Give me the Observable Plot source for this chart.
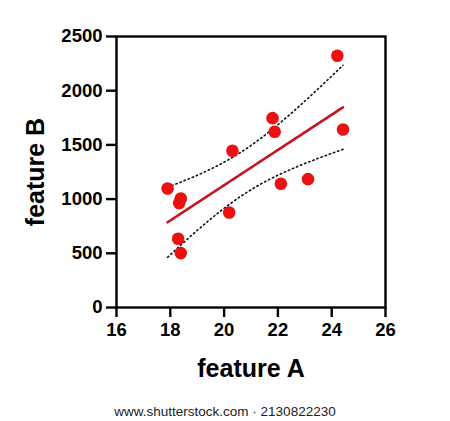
<!DOCTYPE html>
<html>
<head>
<meta charset="utf-8">
<script src="https://cdn.jsdelivr.net/npm/d3@7"></script>
<script src="https://cdn.jsdelivr.net/npm/@observablehq/plot@0.6"></script>
<style>
  html, body { margin: 0; padding: 0; background: #fff; }
  #chart svg { display: block; }
  #caption { width: 450px; text-align: center; font-family: "Liberation Sans", Arial, sans-serif; font-size: 13.5px; color: #222; line-height: 16px; margin-top: 6px; }
</style>
</head>
<body>
<div id="chart"></div>
<div id="caption">www.shutterstock.com · 2130822230</div>
<script>
const featureA = [17.90, 18.39, 18.33, 18.29, 18.39, 20.31, 20.19, 21.80, 21.88, 22.11, 23.12, 24.21, 24.42];
const featureB = [1098, 1006, 963, 634, 502, 1446, 876, 1747, 1621, 1141, 1184, 2322, 1642];
const xTicks = [16, 18, 20, 22, 24, 26];
const yTicks = [0, 500, 1000, 1500, 2000, 2500];
const xLabel = "feature A";
const yLabel = "feature B";

const points = featureA.map((a, i) => ({a, b: featureB[i]}));

// linear regression with 95% confidence band of the mean
const n = points.length;
const mx = d3.mean(featureA), my = d3.mean(featureB);
const sxx = d3.sum(featureA, v => (v - mx) ** 2);
const sxy = d3.sum(points, p => (p.a - mx) * (p.b - my));
const slope = sxy / sxx, intercept = my - slope * mx;
const sse = d3.sum(points, p => (p.b - (intercept + slope * p.a)) ** 2);
const s = Math.sqrt(sse / (n - 2));
const t = 2.201; // t(0.975, df = 11)
const [x0, x1] = d3.extent(featureA);
const band = d3.range(0, 41).map(k => {
  const a = x0 + (x1 - x0) * k / 40;
  const fit = intercept + slope * a;
  const h = t * s * Math.sqrt(1 / n + (a - mx) ** 2 / sxx);
  return {a, fit, lo: fit - h, hi: fit + h};
});

const font = "'Liberation Sans', Arial, Helvetica, sans-serif";
const chart = Plot.plot({
  width: 450,
  height: 398,
  marginLeft: 116,
  marginRight: 65,
  marginTop: 36,
  marginBottom: 91,
  style: {fontFamily: font, fontWeight: "bold", fontSize: "18.5px", color: "#000", background: "#fff"},
  x: {domain: [16, 26]},
  y: {domain: [0, 2500]},
  marks: [
    Plot.axisX({ticks: xTicks, tickFormat: d => String(d), tickSize: 10, tickPadding: 5, strokeWidth: 2.4, fontSize: 18.5, fontWeight: "bold", label: null}),
    Plot.axisY({ticks: yTicks, tickFormat: d => String(d), tickSize: 10, tickPadding: 4, strokeWidth: 2.4, fontSize: 18.5, fontWeight: "bold", label: null}),
    Plot.frame({stroke: "#000", strokeWidth: 2.4}),
    Plot.line(band, {x: "a", y: "hi", stroke: "#111", strokeWidth: 1.6, strokeDasharray: "1.4,3"}),
    Plot.line(band, {x: "a", y: "lo", stroke: "#111", strokeWidth: 1.6, strokeDasharray: "1.4,3"}),
    Plot.dot(points, {x: "a", y: "b", r: 6.3, fill: "#ec1111", stroke: "none"}),
    Plot.line(band, {x: "a", y: "fit", stroke: "#c8141c", strokeWidth: 2.6}),
    Plot.text([xLabel], {frameAnchor: "bottom", dy: 69, text: d => d, fontSize: 25, fontWeight: "bold", fill: "#000"}),
    Plot.text([yLabel], {frameAnchor: "left", textAnchor: "middle", lineAnchor: "middle", dx: -81, dy: 0, rotate: -90, text: d => d, fontSize: 25, fontWeight: "bold", fill: "#000"})
  ]
});
document.getElementById("chart").appendChild(chart);
</script>
</body>
</html>
